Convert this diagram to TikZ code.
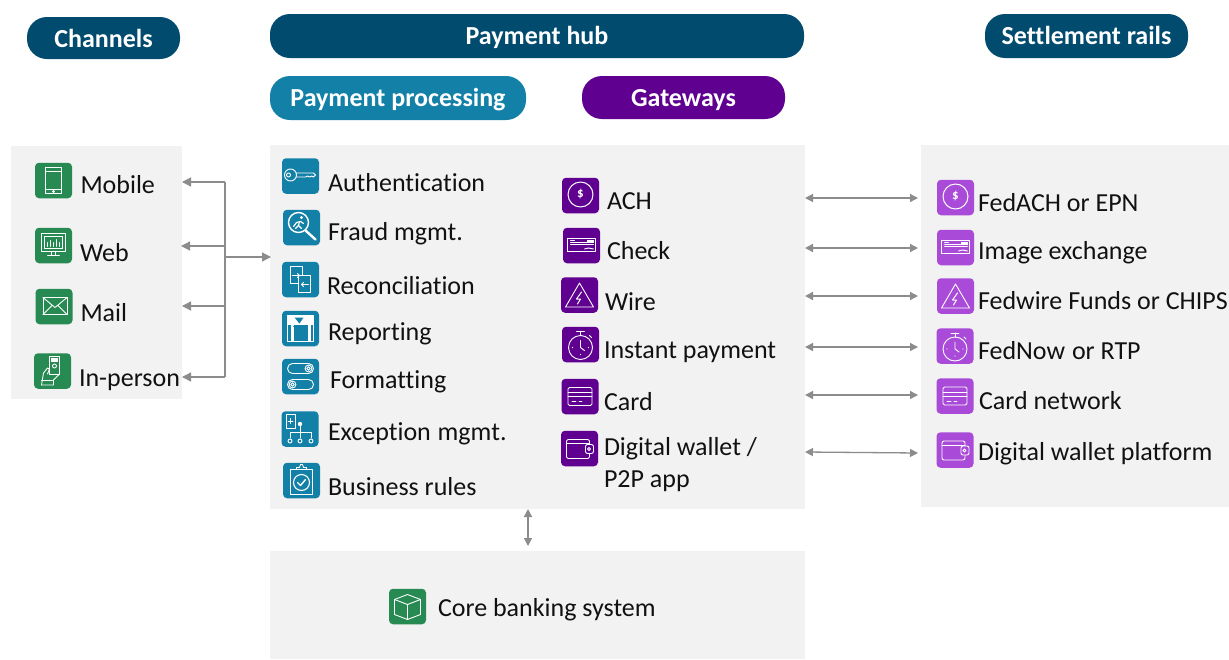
\documentclass[tikz,border=0pt]{standalone}
\usepackage{fontspec}
\setmainfont{Carlito}[Ligatures=NoCommon]
\usetikzlibrary{arrows.meta}
\definecolor{navy}{HTML}{004B6E}
\definecolor{teal}{HTML}{1380A8}
\definecolor{violet}{HTML}{5F0091}
\definecolor{orchid}{HTML}{A94BD8}
\definecolor{leaf}{HTML}{268A52}
\definecolor{panelgrey}{HTML}{F2F2F2}
\definecolor{linkgrey}{HTML}{8C8C8C}
\definecolor{ink}{HTML}{111111}
\tikzset{
  x=1pt,y=-1pt,
  panel/.style={fill=panelgrey,draw=none,anchor=north west,inner sep=0pt,outer sep=0pt},
  pill/.style={rounded corners=20pt,draw=none,text=white,inner sep=0pt,outer sep=0pt,font=\fontsize{26}{30}\selectfont\bfseries},
  iconbox/.style={rounded corners=4pt,draw=none,inner sep=0pt,outer sep=0pt,minimum width=37pt,minimum height=35.5pt},
  lbl/.style={anchor=base west,inner sep=0pt,outer sep=0pt,yshift=-1pt,text=ink,font=\fontsize{26}{32}\selectfont,align=left},
  glyph/.style={draw=white,line width=0.9pt,fill=none,line cap=round,line join=round},
  link/.style={draw=linkgrey,line width=1.3pt,-{Triangle[length=9pt,width=9pt]}},
  dlink/.style={draw=linkgrey,line width=1.3pt,{Triangle[length=8pt,width=8pt]}-{Triangle[length=8pt,width=8pt]}},
  trunk/.style={draw=linkgrey,line width=1.3pt}
}
% icon: name, cx, cy, colour, glyph
\newcommand{\icn}[5]{\node[iconbox,fill=#4] (#1) at (#2,#3) {};
  \begin{scope}[shift={(#2,#3)},glyph]#5\end{scope}}
\newcommand{\hdr}[2][-8.5pt]{\raisebox{#1}[0pt][0pt]{#2}}
\newcommand{\glDollar}[1]{\draw[line width=1pt] (0,-1) circle (12.5);\node[text=white,inner sep=0pt,font=\fontsize{13}{13}\selectfont\bfseries] (#1) at (0,-1) {\$};}
\newcommand{\glCheck}{\draw (-14,-7) rectangle (14,6);\draw (-11,-3.5)--(6,-3.5);\draw (-11,-1)--(12,-1);\draw (-11,-5.5)--(-7,-5.5);\draw[fill=white] (6,-5) rectangle (12,-3);\draw (3,3.5)--(7,2.5)--(12,3.5);}
\newcommand{\glWire}{\draw (0,-12)--(14,12)--(-14,12)--cycle;\draw[line width=1pt] (2,-3)--(-3,4)--(1,4)--(-2,9);}
\newcommand{\glClock}{\draw (0,3) circle (12);\draw (-4,-13)--(4,-13);\draw (0,-13)--(0,-9);\draw (9,-9)--(11,-7);\draw (0,-4)--(0,3)--(4,6);\fill[white] (-8,3) circle (.7) (8,3) circle (.7) (0,10) circle (.7);}
\newcommand{\glCard}{\draw[rounded corners=1.5pt] (-12,-9) rectangle (12,9);\draw (-12,-4)--(12,-4);\draw (-12,0)--(12,0);\draw (-8,5)--(-4,5);\draw (-1,5)--(2,5);}
\newcommand{\glWallet}{\draw[rounded corners=2pt] (10,-4)--(10,-9)--(-13,-9)--(-13,10)--(10,10)--(10,5);\draw (-13,-5)--(10,-5);\draw[rounded corners=2pt] (6,-4) rectangle (14,5);\draw (9.5,.5) circle (1.5);}
\begin{document}
\begin{tikzpicture}
\useasboundingbox (0,0) rectangle (1229,659);
\fill[white] (0,0) rectangle (1229,659);
% panels
\node[panel,minimum width=171pt,minimum height=253pt] (chp) at (11,146) {};
\node[panel,minimum width=535pt,minimum height=364pt] (hub) at (270,145) {};
\node[panel,minimum width=308pt,minimum height=362pt] (rails) at (921,145) {};
\node[panel,minimum width=535pt,minimum height=108pt] (core) at (270,551) {};
% headers
\node[pill,fill=navy,minimum width=153pt,minimum height=42pt] (hch) at (103.5,38) {\hdr[-9pt]{Channels}};
\node[pill,fill=navy,minimum width=534pt,minimum height=44pt] (hhub) at (537,36) {\hdr{Payment hub}};
\node[pill,fill=navy,minimum width=203pt,minimum height=44pt] (hset) at (1086.5,36) {\hdr{Settlement rails}};
\node[pill,fill=teal,minimum width=256pt,minimum height=44pt] (hpp) at (398,98) {\hdr{Payment processing}};
\node[pill,fill=violet,minimum width=203pt,minimum height=43pt] (hgw) at (683.5,97.5) {\hdr{Gateways}};
% channels
\icn{imob}{53.5}{180.5}{leaf}{\draw (-8,-13) rectangle (8,13);\draw (-8,-9)--(8,-9);\draw (-8,9)--(8,9);\draw (0,11) circle (1);}
\icn{iweb}{53.5}{245.5}{leaf}{\draw (-12,-12) rectangle (12,6);\draw (-9,-9) rectangle (9,3);\draw (-6,1)--(-6,-3) (-3,1)--(-3,-5) (0,1)--(0,-3) (3,1)--(3,-6) (6,1)--(6,-3);\draw (-2,6)--(-2,10) (2,6)--(2,10);\draw (-6,10)--(6,10);}
\icn{imail}{54}{306.5}{leaf}{\draw (-11,-9) rectangle (13,8);\draw (-11,-9)--(1,1)--(13,-9);\draw (-11,8)--(-2,-1);\draw (13,8)--(4,-1);}
\icn{iper}{52.5}{371}{leaf}{\draw (-3,-15) rectangle (7,3);\draw[fill=white] (-1,-13) rectangle (5,-10);\draw (2,-5) circle (2);\draw (-11,14)--(-9,2)--(-5,-3)--(-3,-2)--(-5,3);\draw (-11,9)--(0,9);\draw (-11,14)--(1,14)--(1,9)--(7,3);}
\node[lbl] (lmob) at (80.5,192) {Mobile};
\node[lbl] (lweb) at (80,260) {Web};
\node[lbl] (lmail) at (80.5,320) {Mail};
\node[lbl] (lper) at (79,385) {In-person};
% processing
\icn{iaut}{300.5}{176}{teal}{\draw (-10,-1) circle (6);\draw (-12,-1) circle (2);\draw (-4,-3)--(13,-3)--(15,-1)--(13,1)--(11,0)--(9,1)--(7,0)--(5,1)--(-4,1);}
\icn{ifra}{301.5}{227.5}{teal}{\draw[line width=1.4pt] (-3,-5) circle (10);\draw[line width=2.4pt] (4,3)--(14,12);\draw[line width=1.2pt] (-8,-1)--(-5,-5)--(-1,-6)--(2,-4);\draw[line width=1.2pt] (-2,-6)--(-3,-2)--(0,1);\draw[line width=1.2pt] (-3,-2)--(-6,1);\fill[white] (0,-10) circle (1.6);}
\icn{irec}{300.5}{279.5}{teal}{\draw (-10,-13) rectangle (2,4);\draw[fill=teal] (-2,-4) rectangle (10,13);\draw (-8,-4)--(-1,-4) (-3,-6)--(-1,-4)--(-3,-2);\draw (8,5)--(1,5) (3,3)--(1,5)--(3,7);}
\icn{irep}{300.5}{328.5}{teal}{\draw[line width=1.4pt] (-13,-13) rectangle (13,13);\fill[white] (-13,-13) rectangle (13,-4);\fill[white] (-10,-4) rectangle (-7,13);\fill[white] (7,-4) rectangle (10,13);\fill[teal] (-6,-11)--(3,-11)--(-1,-5)--cycle;\draw[draw=teal,line width=.8pt] (-7,-2)--(7,-2);\draw[draw=teal,line width=.8pt] (-6,0)--(6,0);}
\icn{ifor}{300.5}{376.5}{teal}{\draw[rounded corners=5pt] (-13,-13) rectangle (13,-3);\draw (8,-8) circle (3.4);\draw (8,-8) circle (1.8);\draw[rounded corners=5pt] (-13,3) rectangle (13,13);\draw (-8,8) circle (3.4);\draw (-8,8) circle (1.8);}
\icn{iexc}{300}{429}{teal}{\draw (-14,-15) rectangle (-5,-1);\draw (-12,-8)--(-7,-8) (-9.5,-10.5)--(-9.5,-5.5);\fill[white] (0,-5) circle (2.2);\draw (0,-5)--(0,3);\draw (-10,9)--(-10,3)--(11,3)--(11,9);\draw (0,3)--(0,9);\draw (-10,12) circle (2);\draw (0,12) circle (2);\draw (11,12) circle (2);}
\icn{ibus}{301.5}{480.5}{teal}{\draw[line width=1.1pt] (-11,-11) rectangle (11,14);\draw (-5,-11)--(-5,-13)--(-2,-13)--(-1,-16)--(1,-16)--(2,-13)--(5,-13)--(5,-11);\draw[line width=1.1pt] (0,2) circle (8);\draw[line width=1.4pt] (-4,2)--(-1,5)--(4,-1);}
\node[lbl] (laut) at (328,190) {Authentication};
\node[lbl] (lfra) at (328,239) {Fraud mgmt.};
\node[lbl] (lrec) at (327,293) {Reconciliation};
\node[lbl] (lrep) at (328,339) {Reporting};
\node[lbl] (lfor) at (330,387) {Formatting};
\node[lbl] (lexc) at (328,439) {Exception\hspace{1pt} mgmt.};
\node[lbl] (lbus) at (328,494) {Business rules};
% gateways
\icn{iach}{580.5}{195.5}{violet}{\glDollar{sach}}
\icn{ichk}{581.5}{245.5}{violet}{\glCheck}
\icn{iwir}{579.5}{295}{violet}{\glWire}
\icn{iins}{580.5}{344.5}{violet}{\glClock}
\icn{icrd}{580}{396.5}{violet}{\glCard}
\icn{iwal}{579.5}{448.5}{violet}{\glWallet}
\node[lbl] (lach) at (607,208) {ACH};
\node[lbl] (lchk) at (607,258) {Check};
\node[lbl] (lwir) at (605,309) {Wire};
\node[lbl] (lins) at (604,357) {Instant payment};
\node[lbl] (lcrd) at (604,409) {Card};
\node[lbl] (lwal) at (604,486) {Digital wallet /\\P2P app};
% rails
\icn{ifed}{955.5}{197.5}{orchid}{\glDollar{sfed}}
\icn{iimg}{955.5}{247.5}{orchid}{\glCheck}
\icn{ifwr}{955.5}{296}{orchid}{\glWire}
\icn{inow}{955}{346}{orchid}{\glClock}
\icn{icnw}{955}{396}{orchid}{\glCard}
\icn{idwp}{955}{450}{orchid}{\glWallet}
\node[lbl] (lfed) at (978,210) {FedACH or EPN};
\node[lbl] (limg) at (978,258) {Image exchange};
\node[lbl] (lfwr) at (978,308) {Fedwire Funds or CHIPS};
\node[lbl] (lnow) at (978,358) {FedNow\hspace{1pt} or RTP};
\node[lbl] (lcnw) at (979,408) {Card network};
\node[lbl] (ldwp) at (978,459) {Digital wallet platform};
% core
\icn{icor}{407.5}{606.5}{leaf}{\draw (0,-12)--(13,-7)--(13,8)--(0,13)--(-13,8)--(-13,-7)--cycle;\draw (-13,-7)--(0,-2)--(13,-7);\draw (0,-2)--(0,13);}
\node[lbl] (lcor) at (438,615) {Core banking system};
% connectors
\coordinate (t1) at (225,182);\coordinate (t2) at (225,246);\coordinate (t3) at (225,306);\coordinate (t4) at (225,377);\coordinate (t5) at (225,257);
\coordinate (c1) at (182,182);\coordinate (c2) at (181,246);\coordinate (c3) at (182,306);\coordinate (c4) at (182,377);
\coordinate (h0) at (271,257);
\draw[trunk] (t1)--(t4);
\draw[link] (t1)--(c1);
\draw[link] (t2)--(c2);
\draw[link] (t3)--(c3);
\draw[link] (t4)--(c4);
\draw[link] (t5)--(h0);
\foreach \n/\yy/\zz in {1/198/198,2/248/248,3/296/296,4/347/347,5/395/395,6/452/453}{
  \coordinate (a\n) at (805,\yy);\coordinate (b\n) at (918,\zz);
  \draw[dlink] (a\n)--(b\n);}
\coordinate (v1) at (528,509);\coordinate (v2) at (528,546);
\draw[dlink] (v1)--(v2);
\end{tikzpicture}
\end{document}
